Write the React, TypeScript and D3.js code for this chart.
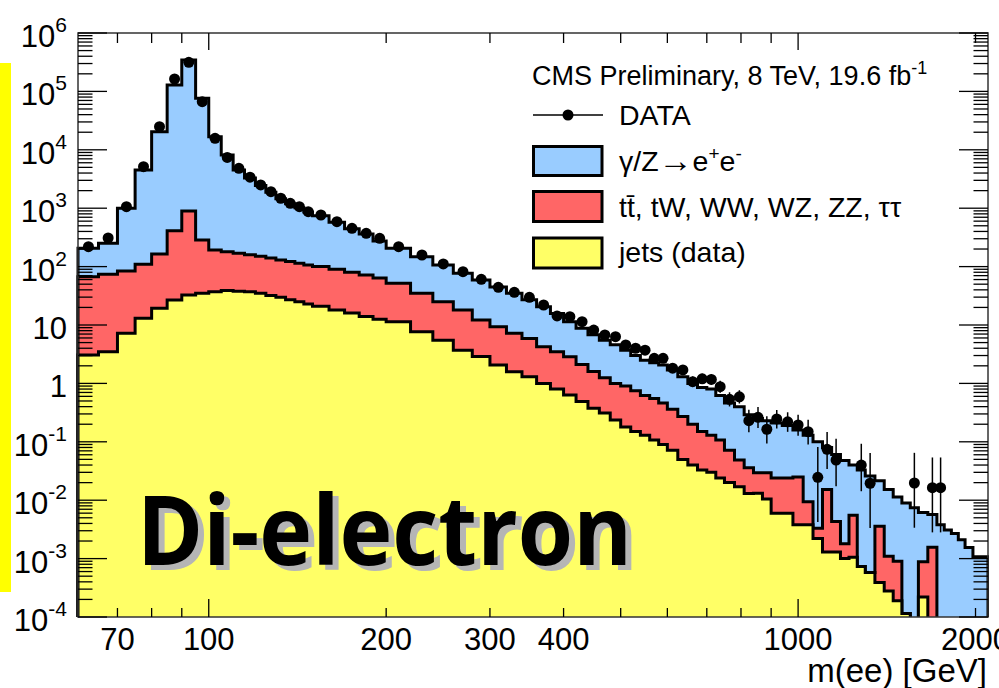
import React from "react";
import * as d3 from "d3";

// Variable-width mass bins in GeV (79 edges -> 78 bins)
const binEdges = [
  60, 65, 70, 75, 80, 85, 90, 95, 100, 105, 110, 115, 120, 125, 130, 135, 140, 145, 150,
  160, 170, 180, 190, 200,
  220, 240, 260, 280, 300, 320, 340, 360, 380, 400, 420, 440, 460, 480, 500, 520, 540, 560, 580, 600,
  625, 650, 675, 700, 725, 750, 780, 810, 840, 870, 900,
  940, 980, 1020, 1060, 1100, 1140, 1180, 1220, 1260, 1300,
  1350, 1400, 1450, 1500, 1550, 1600,
  1660, 1720, 1770, 1820, 1870, 1920, 1980, 2100,
];

// Events / GeV, jets (data-driven) background
const jets = [
  3.06, 3.5, 7.2, 13, 19.3, 26.8, 32.6, 34.9, 37, 39, 38, 37, 35, 32, 30, 27, 25, 23,
  21, 18, 16, 14, 12.5,
  11.4, 7.7, 5.5, 3.7, 2.9, 2.07, 1.58, 1.3, 1.0, 0.8, 0.63, 0.49, 0.375, 0.31, 0.236, 0.18, 0.15, 0.13, 0.107, 0.09,
  0.072, 0.05, 0.04, 0.033, 0.03, 0.024, 0.02, 0.017, 0.013, 0.0131, 0.0105,
  0.006, 0.006, 0.0038, 0.0038, 0.0022, 0.0013, 0.0013, 0.001, 0.00105, 0.00073,
  0.00058, 0.00039, 0.00028, 0.00019, 0.000115, 0,
  0.00022, 0, 0, 0, 0, 0, 0, 0,
];

// Events / GeV, ttbar + tW + dibosons + tautau
const topDiboson = [
  63.9, 70.5, 76.8, 97, 145.7, 383, 867, 250, 155, 141, 132, 123, 115, 108, 100, 95, 89, 83,
  79, 72, 64, 58, 51.5,
  40.6, 27.3, 19.5, 14.3, 9.3, 7.28, 5.62, 4.6, 3.25, 2.7, 2.22, 1.61, 1.225, 0.94, 0.764, 0.72, 0.6, 0.49, 0.443, 0.37,
  0.288, 0.22, 0.16, 0.117, 0.1, 0.083, 0.052, 0.032, 0.023, 0.0164, 0.019,
  0.018, 0.018, 0.0212, 0.0056, 0.0011, 0.014, 0.003, 0.0008, 0.00445, 0,
  0, 0.0032, 0.00082, 0.00071, 0, 0,
  0.00066, 0.00157, 0, 0, 0, 0, 0, 0,
];

// Events / GeV, gamma/Z -> ee
const drellYan = [
  139, 176, 916, 4390, 20200, 128600, 344100, 75900, 16600, 7970, 4330, 3140, 2300, 1740, 1320, 1068, 906, 754,
  640, 485, 365, 288, 211,
  154, 113, 81, 59, 46.8, 35.6, 27.8, 21.1, 16.35, 12.3, 8.55, 6.7, 5.2, 4.25, 3.6, 2.8, 2.25, 1.88, 1.7, 1.61,
  1.34, 1.03, 0.8, 0.7, 0.67, 0.513, 0.388, 0.351, 0.254, 0.2205, 0.2005,
  0.186, 0.166, 0.135, 0.1206, 0.0967, 0.0647, 0.0562, 0.0462, 0.0345, 0.0323,
  0.0254, 0.0179, 0.0142, 0.0104, 0.0088, 0.0074,
  0.0053, 0.0041, 0.0038, 0.0031, 0.0027, 0.0021, 0.00155, 0.00108,
];

// Observed events / GeV (0 = empty bin)
const observed = [
  219, 309, 1060, 5140, 24900, 163000, 315000, 66700, 15700, 7400, 4820, 3400, 2500, 1920, 1480, 1210, 1060, 871,
  765, 588, 453, 372, 305,
  219, 158, 111, 82, 60.5, 44.2, 36.3, 29.8, 22, 14.3, 13.9, 11.4, 8.2, 6.75, 6.3, 4.55, 4.0, 3.7, 2.69, 2.69,
  1.82, 1.7, 1.07, 1.2, 1.17, 0.88, 0.535, 0.59, 0.23, 0.263, 0.164,
  0.246, 0.22, 0.194, 0.149, 0.0247, 0.0745, 0.0488, 0, 0, 0.04,
  0.0195, 0, 0, 0, 0, 0.0197,
  0, 0.0164, 0.0164, 0, 0, 0, 0, 0,
];

const xTickLabels = [70, 100, 200, 300, 400, 1000, 2000];
const xMajorTicks = [100, 1000];
const yExponents = [-4, -3, -2, -1, 0, 1, 2, 3, 4, 5, 6];

const fillColors = { dy: "#99ccff", top: "#ff6666", jets: "#ffff66" };
const FONT = "'Liberation Sans', Arial, Helvetica, sans-serif";
const BIG_FONT = "'Open Sans', 'Noto Sans', sans-serif";

// 68% Poisson interval (Wilson-Hilferty approximation of the Garwood limits)
function poissonInterval(n: number): [number, number] {
  const lo = n === 0 ? 0 : n * Math.pow(1 - 1 / (9 * n) - 1 / (3 * Math.sqrt(n)), 3);
  const m = n + 1;
  const hi = m * Math.pow(1 - 1 / (9 * m) + 1 / (3 * Math.sqrt(m)), 3);
  return [lo, hi];
}

export default function App() {
  const W = 999;
  const H = 688;
  const L = 78, R = 988, T = 33, B = 617;

  const x = d3.scaleLog().domain([60, 2100]).range([L, R]);
  const y = d3.scaleLog().domain([1e-4, 1e6]).range([B, T]);
  const floorY = B + 14;
  const yc = (v: number) => (v > 1e-4 ? y(v) : floorY);

  const rows = jets.map((_, i) => ({ jets: jets[i], top: topDiboson[i], dy: drellYan[i] }));
  const series = d3.stack<any>().keys(["jets", "top", "dy"])(rows);

  const stepPath = (layer: any[]) => {
    const pts: [number, number][] = [[x(binEdges[0]), floorY]];
    layer.forEach((d, i) => {
      const yy = yc(d[1]);
      pts.push([x(binEdges[i]), yy], [x(binEdges[i + 1]), yy]);
    });
    pts.push([x(binEdges[binEdges.length - 1]), floorY]);
    return (d3.line()(pts) as string) + "Z";
  };

  const points = observed
    .map((v, i) => ({ v, lo: binEdges[i], hi: binEdges[i + 1] }))
    .filter((d) => d.v > 0)
    .map((d) => {
      const n = Math.max(1, Math.round(d.v * (d.hi - d.lo)));
      const [nl, nh] = poissonInterval(n);
      return {
        cx: x((d.lo + d.hi) / 2),
        cy: y(d.v),
        y1: yc((d.v * nh) / n),
        y2: yc((d.v * nl) / n),
      };
    });

  // axis ticks
  const yMinor: number[] = [];
  yExponents.slice(0, -1).forEach((e) => {
    for (let k = 2; k <= 9; k++) yMinor.push(k * Math.pow(10, e));
  });
  const xTicks = x.ticks(20).filter((t) => t > 60 && t < 2100);

  const order: [string, number][] = [
    ["dy", 2],
    ["top", 1],
    ["jets", 0],
  ];

  return (
    <svg
      width={W}
      height={H}
      viewBox={`0 0 ${W} ${H}`}
      style={{ position: "absolute", left: 0, top: 0, background: "#fff" }}
      fontFamily={FONT}
    >
      <defs>
        <clipPath id="plotClip">
          <rect x={L - 2} y={T} width={R - L + 3} height={B - T} />
        </clipPath>
      </defs>

      {/* side marker bar */}
      <rect x={0} y={63} width={11} height={529} fill="#ffff00" />

      {/* stacked histograms */}
      <g clipPath="url(#plotClip)">
        {order.map(([key, idx]) => (
          <path
            key={key}
            d={stepPath(series[idx] as any)}
            fill={(fillColors as any)[key]}
            stroke="#000"
            strokeWidth={3}
            strokeLinejoin="miter"
          />
        ))}
      </g>

      {/* data */}
      <g clipPath="url(#plotClip)">
        {points.map((p, i) => (
          <line key={"e" + i} x1={p.cx} x2={p.cx} y1={p.y1} y2={p.y2} stroke="#000" strokeWidth={1.5} />
        ))}
        {points.map((p, i) => (
          <circle key={"c" + i} cx={p.cx} cy={p.cy} r={5.5} fill="#000" />
        ))}
      </g>

      {/* frame */}
      <rect x={L} y={T} width={R - L} height={B - T} fill="none" stroke="#333" strokeWidth={1.5} />

      {/* y ticks */}
      {yExponents.map((e) => {
        const yy = y(Math.pow(10, e));
        return (
          <g key={"ym" + e} stroke="#000" strokeWidth={1.3}>
            <line x1={L} x2={L + 29} y1={yy} y2={yy} />
            <line x1={R} x2={R - 29} y1={yy} y2={yy} />
          </g>
        );
      })}
      {yMinor.map((v, i) => {
        const yy = y(v);
        return (
          <g key={"yn" + i} stroke="#000" strokeWidth={1.3}>
            <line x1={L} x2={L + 14.5} y1={yy} y2={yy} />
            <line x1={R} x2={R - 14.5} y1={yy} y2={yy} />
          </g>
        );
      })}

      {/* x ticks */}
      {xTicks.map((t) => {
        const xx = x(t);
        const major = xMajorTicks.includes(t);
        return (
          <g key={"xt" + t} stroke="#000" strokeWidth={1.3}>
            <line x1={xx} x2={xx} y1={B} y2={B - (major ? 18 : 9)} />
            <line x1={xx} x2={xx} y1={T} y2={T + (major ? 17 : 10)} />
          </g>
        );
      })}

      {/* y tick labels */}
      {yExponents.map((e) => (
        <text key={"yl" + e} x={67} y={y(Math.pow(10, e)) + 14} textAnchor="end" fontSize={31} fill="#000">
          {e === 0 ? (
            "1"
          ) : e === 1 ? (
            "10"
          ) : (
            <>
              <tspan>10</tspan>
              <tspan dy={-15} fontSize={21}>
                {`${e}`}
              </tspan>
            </>
          )}
        </text>
      ))}

      {/* x tick labels */}
      {xTickLabels.map((t) => (
        <text key={"xl" + t} x={x(t)} y={650} textAnchor="middle" fontSize={31} fill="#000">
          {t}
        </text>
      ))}
      <text x={987} y={682} textAnchor="end" fontSize={33} fill="#000">
        m(ee) [GeV]
      </text>

      {/* legend */}
      <text x={532} y={85} fontSize={27} fill="#000">
        <tspan>CMS Preliminary, 8 TeV, 19.6 fb</tspan>
        <tspan dy={-11} fontSize={18}>-1</tspan>
      </text>
      <line x1={533} x2={603} y1={115} y2={115} stroke="#000" strokeWidth={1.5} />
      <circle cx={568} cy={115} r={5.5} fill="#000" />
      <text x={619} y={125} fontSize={28.5} fill="#000">DATA</text>

      <rect x={533.5} y={146.5} width={68.5} height={29} fill={fillColors.dy} stroke="#000" strokeWidth={3} />
      <text x={619} y={171} fontSize={28.5} fill="#000">
        <tspan>γ/Z</tspan>
        <tspan fontSize={34} dy={1}>→</tspan>
        <tspan dy={-1}>e</tspan>
        <tspan dy={-11} fontSize={19}>+</tspan>
        <tspan dy={11}>e</tspan>
        <tspan dy={-11} fontSize={19}>-</tspan>
      </text>

      <rect x={533.5} y={191.5} width={68.5} height={30} fill={fillColors.top} stroke="#000" strokeWidth={3} />
      <text x={619} y={217} fontSize={28.5} fill="#000">
        {"tt\u0304, tW, WW, WZ, ZZ, ττ"}
      </text>

      <rect x={533.5} y={238} width={68.5} height={30} fill={fillColors.jets} stroke="#000" strokeWidth={3} />
      <text x={619} y={262} fontSize={28.5} fill="#000">jets (data)</text>

      {/* channel label with drop shadow */}
      <text
        x={143}
        y={570}
        fontFamily={BIG_FONT}
        fontWeight={700}
        fontSize={96}
        fill="#b5b5b5"
        textLength={495}
        lengthAdjust="spacingAndGlyphs"
      >
        Di-electron
      </text>
      <text
        x={137}
        y={565}
        fontFamily={BIG_FONT}
        fontWeight={700}
        fontSize={96}
        fill="#000"
        textLength={495}
        lengthAdjust="spacingAndGlyphs"
      >
        Di-electron
      </text>
    </svg>
  );
}
